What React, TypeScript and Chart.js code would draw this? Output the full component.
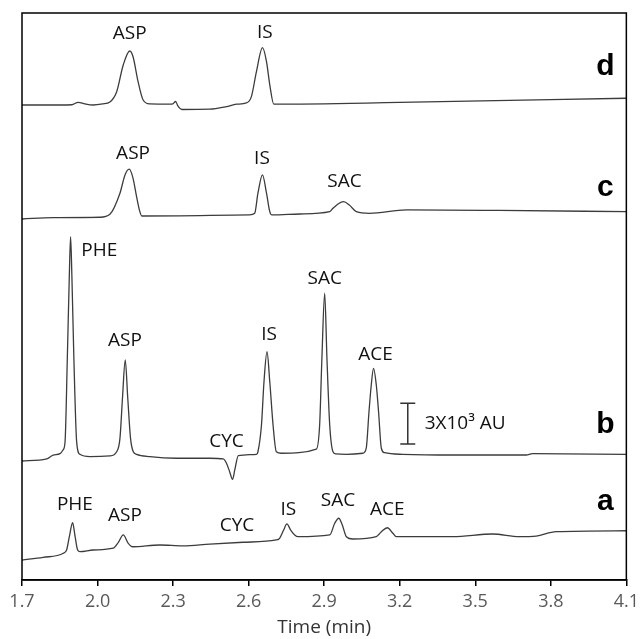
import React, { useEffect, useRef } from "react";
import { Chart, registerables } from "chart.js";

Chart.register(...registerables);

// x-axis ticks (min)
const tickValues = [1.7, 2.0, 2.3, 2.6, 2.9, 3.2, 3.5, 3.8, 4.1];

// signal in units of 10^3 AU (traces stacked with an offset)
const timeA = [1.700, 1.784, 1.864, 1.877, 1.888, 1.901, 1.911, 1.921, 1.930, 1.983, 2.062, 2.082, 2.102, 2.122, 2.139, 2.247, 2.340, 2.446, 2.578, 2.710, 2.723, 2.739, 2.752, 2.767, 2.783, 2.796, 2.922, 2.942, 2.958, 2.972, 2.988, 3.014, 3.107, 3.127, 3.151, 3.173, 3.186, 3.411, 3.569, 3.675, 3.742, 3.821, 4.100];
const signalA = [1.47, 1.67, 1.97, 2.21, 3.19, 4.22, 3.19, 2.21, 2.09, 2.21, 2.34, 2.75, 3.32, 2.70, 2.45, 2.58, 2.51, 2.65, 2.78, 2.95, 3.07, 3.68, 4.13, 3.68, 3.32, 3.19, 3.32, 4.18, 4.55, 4.05, 3.19, 3.02, 3.19, 3.56, 3.85, 3.44, 3.19, 3.19, 3.39, 3.19, 3.24, 3.56, 3.63];

const timeB = [1.700, 1.798, 1.824, 1.851, 1.863, 1.871, 1.880, 1.888, 1.893, 1.898, 1.906, 1.917, 1.930, 1.970, 2.049, 2.076, 2.089, 2.099, 2.110, 2.120, 2.131, 2.142, 2.155, 2.208, 2.314, 2.446, 2.499, 2.512, 2.525, 2.536, 2.545, 2.559, 2.631, 2.637, 2.651, 2.661, 2.673, 2.684, 2.697, 2.710, 2.730, 2.869, 2.882, 2.891, 2.902, 2.911, 2.922, 2.935, 2.946, 2.988, 3.054, 3.067, 3.078, 3.087, 3.096, 3.107, 3.116, 3.127, 3.140, 3.212, 3.410, 3.702, 3.727, 4.100];
const signalB = [8.77, 8.92, 9.21, 9.31, 9.58, 10.19, 16.34, 22.48, 25.30, 22.48, 16.34, 10.19, 9.26, 9.09, 9.14, 9.45, 10.44, 13.39, 16.21, 13.39, 10.44, 9.45, 9.26, 9.09, 8.97, 8.97, 8.92, 8.60, 7.96, 7.42, 8.11, 9.16, 9.26, 9.45, 11.42, 14.61, 16.82, 14.61, 11.42, 9.45, 9.34, 9.65, 11.42, 16.34, 21.13, 16.34, 11.42, 9.45, 9.29, 9.26, 9.34, 9.71, 12.40, 14.37, 15.60, 14.37, 12.40, 9.71, 9.38, 9.26, 9.21, 9.21, 9.31, 9.26];

const timeC = [1.700, 1.824, 2.009, 2.049, 2.089, 2.109, 2.126, 2.141, 2.155, 2.168, 2.176, 2.604, 2.624, 2.637, 2.655, 2.671, 2.684, 2.692, 2.803, 2.922, 2.935, 2.955, 2.977, 3.000, 3.028, 3.080, 3.226, 3.596, 4.100];
const signalC = [26.60, 26.70, 26.73, 26.95, 28.50, 29.85, 30.27, 29.60, 28.25, 27.14, 26.82, 26.90, 27.02, 28.50, 29.85, 28.50, 27.14, 26.90, 26.97, 27.14, 27.39, 27.71, 27.88, 27.63, 27.14, 27.02, 27.27, 27.23, 27.14];

const timeD = [1.700, 1.851, 1.898, 1.923, 1.950, 1.982, 2.021, 2.049, 2.076, 2.102, 2.128, 2.141, 2.161, 2.181, 2.208, 2.287, 2.299, 2.310, 2.319, 2.335, 2.446, 2.512, 2.552, 2.591, 2.611, 2.631, 2.655, 2.671, 2.684, 2.700, 3.199, 4.100];
const signalD = [35.00, 35.00, 35.02, 35.20, 35.08, 35.00, 35.08, 35.22, 35.98, 37.95, 38.98, 38.56, 36.72, 35.37, 35.08, 35.06, 35.08, 35.26, 34.93, 34.67, 34.69, 34.88, 35.06, 35.15, 35.62, 37.46, 39.23, 38.20, 36.48, 35.06, 35.19, 35.50];

// peak labels (anchor in time / signal units)
const peakNames = ["ASP", "IS", "ASP", "IS", "SAC", "PHE", "ASP", "CYC", "IS", "SAC", "ACE", "PHE", "ASP", "CYC", "IS", "SAC", "ACE"];
const peakLabelTimes = [2.128, 2.664, 2.141, 2.653, 2.981, 2.007, 2.109, 2.512, 2.681, 2.902, 3.104, 1.910, 2.109, 2.554, 2.758, 2.955, 3.151];
const peakLabelLevels = [40.29, 40.31, 31.44, 31.08, 29.35, 24.24, 17.61, 10.19, 18.11, 22.18, 16.63, 5.53, 4.72, 3.98, 5.16, 5.84, 5.16];

// trace letters
const traceNames = ["a", "b", "c", "d"];
const traceLetterTime = 4.017;
const traceLetterLevels = [5.77, 11.42, 28.87, 37.83];

// scale bar: 3 x 10^3 AU
const scaleBarTime = 3.232;
const scaleBarFrom = 10.02;
const scaleBarTo = 13.02;
const scaleBarText = "3X10³ AU";
const scaleBarTextTime = 3.299;

const Y_MIN = 0;
const Y_MAX = 41.78;

const overlayPlugin = {
  id: "overlay",
  afterDatasetsDraw(chart: any) {
    const { ctx, chartArea, scales } = chart;
    const x = scales.x;
    const y = scales.y;
    ctx.save();
    // frame
    ctx.strokeStyle = "#000";
    ctx.lineWidth = 1.5;
    ctx.strokeRect(chartArea.left, chartArea.top, chartArea.right - chartArea.left, chartArea.bottom - chartArea.top);

    // peak labels
    ctx.fillStyle = "#111";
    ctx.font = '19px "Open Sans"';
    ctx.textAlign = "center";
    ctx.textBaseline = "middle";
    peakNames.forEach((n, i) => {
      ctx.fillText(n, x.getPixelForValue(peakLabelTimes[i]), y.getPixelForValue(peakLabelLevels[i]));
    });

    // trace letters
    ctx.fillStyle = "#000";
    ctx.font = 'bold 30px "Liberation Sans"';
    traceNames.forEach((n, i) => {
      ctx.fillText(n, x.getPixelForValue(traceLetterTime), y.getPixelForValue(traceLetterLevels[i]));
    });

    // scale bar
    const bx = x.getPixelForValue(scaleBarTime);
    const by1 = y.getPixelForValue(scaleBarFrom);
    const by2 = y.getPixelForValue(scaleBarTo);
    ctx.strokeStyle = "#333";
    ctx.lineWidth = 1.5;
    ctx.beginPath();
    ctx.moveTo(bx, by1);
    ctx.lineTo(bx, by2);
    ctx.moveTo(bx - 7.5, by1);
    ctx.lineTo(bx + 7.5, by1);
    ctx.moveTo(bx - 7.5, by2);
    ctx.lineTo(bx + 7.5, by2);
    ctx.stroke();
    ctx.fillStyle = "#111";
    ctx.font = '19px "Open Sans"';
    ctx.textAlign = "left";
    ctx.fillText(scaleBarText, x.getPixelForValue(scaleBarTextTime), (by1 + by2) / 2);
    ctx.restore();
  },
};

function toPoints(t: number[], s: number[]) {
  return t.map((v, i) => ({ x: v, y: s[i] }));
}

export default function App() {
  const ref = useRef<HTMLCanvasElement | null>(null);
  useEffect(() => {
    if (!ref.current) return;
    const line = (t: number[], s: number[]) => ({
      data: toPoints(t, s),
      borderColor: "#3c3c3c",
      borderWidth: 1.3,
      pointRadius: 0,
      cubicInterpolationMode: "monotone" as const,
      fill: false,
    });
    const chart = new Chart(ref.current, {
      type: "line",
      data: {
        datasets: [line(timeA, signalA), line(timeB, signalB), line(timeC, signalC), line(timeD, signalD)],
      },
      options: {
        animation: false,
        responsive: false,
        layout: { padding: { left: 22, right: 17, top: 13, bottom: 0 } },
        plugins: { legend: { display: false }, tooltip: { enabled: false } },
        scales: {
          x: {
            type: "linear",
            min: 1.7,
            max: 4.1,
            afterBuildTicks: (s: any) => {
              s.ticks = tickValues.map((v) => ({ value: v }));
            },
            afterFit: (s: any) => {
              s.height = 59;
            },
            ticks: {
              callback: (v: any) => Number(v).toFixed(1),
              color: "#595959",
              font: { family: "Open Sans", size: 18 },
              padding: 5,
              maxRotation: 0,
              autoSkip: false,
            },
            grid: { drawOnChartArea: false, drawTicks: true, tickLength: 6, color: "#000", lineWidth: 1.5 },
            border: { display: true, color: "#000", width: 1.5 },
            title: {
              display: true,
              text: "Time (min)",
              color: "#333",
              font: { family: "Open Sans", size: 19 },
              padding: { top: 0, bottom: 0 },
            },
          },
          y: {
            type: "linear",
            min: Y_MIN,
            max: Y_MAX,
            display: false,
          },
        },
      },
      plugins: [overlayPlugin],
    });
    return () => chart.destroy();
  }, []);
  return (
    <div style={{ position: "fixed", left: 0, top: 0, width: 644, height: 639 }}>
      <canvas ref={ref} width={644} height={639} style={{ display: "block" }} />
    </div>
  );
}
